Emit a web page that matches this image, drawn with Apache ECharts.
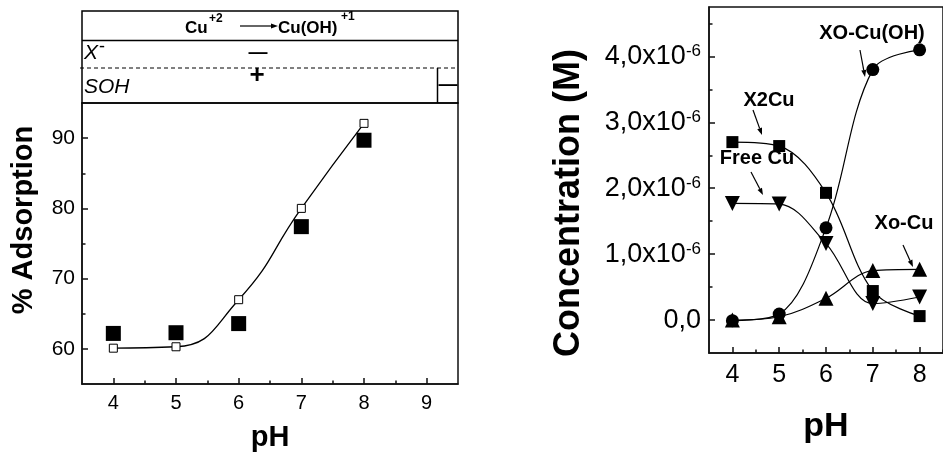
<!DOCTYPE html>
<html>
<head>
<meta charset="utf-8">
<script src="https://cdn.jsdelivr.net/npm/echarts@6/dist/echarts.min.js"></script>
<style>
html, body { margin: 0; padding: 0; background: #fff; overflow: hidden; }
#main { width: 943px; height: 457px; }
</style>
</head>
<body>
<div id="main"></div>
<script>
// left panel: % adsorption vs pH
var phLeft = [4, 5, 6, 7, 8];
var adsFilled = [62.2, 62.3, 63.6, 77.4, 89.7];
var adsOpen = [60.1, 60.3, 67.0, 80.0, 92.1];
var leftXTicks = [4, 5, 6, 7, 8, 9];
var leftXMinor = [4.5, 5.5, 6.5, 7.5, 8.5];
var leftYTicks = [60, 70, 80, 90];
var leftYMinor = [65, 75, 85];

// right panel: concentration (x10^-6 M) vs pH
var phRight = [4, 5, 6, 7, 8];
var x2Cu = [2.70, 2.64, 1.93, 0.44, 0.06];
var freeCu = [1.77, 1.76, 1.16, 0.25, 0.35];
var xoCuOH = [-0.01, 0.09, 1.40, 3.80, 4.10];
var xoCu = [0.00, 0.05, 0.33, 0.75, 0.77];
var rightXTicks = [4, 5, 6, 7, 8];
var rightXMinor = [4.5, 5.5, 6.5, 7.5, 8.5];
var rightYTicks = [0, 1, 2, 3, 4];
var rightYMinor = [0.5, 1.5, 2.5, 3.5, 4.5];

var FONT = 'Liberation Sans, Arial, sans-serif';
var AX = '#111';

function pairs(xs, ys) {
    return xs.map(function (x, i) { return [x, ys[i]]; });
}

function majorAxis(grid, min, max, ticks, size, margin, extra) {
    var a = {
        type: 'value', gridIndex: grid, min: min, max: max,
        axisLine: { show: true, onZero: false, lineStyle: { color: AX, width: 1.5 } },
        axisTick: { show: true, inside: true, length: 6, customValues: ticks, lineStyle: { color: AX, width: 1.5 } },
        axisLabel: { customValues: ticks, fontSize: size, margin: margin, color: '#000', fontFamily: FONT },
        splitLine: { show: false }
    };
    for (var k in extra) a[k] = extra[k];
    return a;
}

// second axis on the same side, only for the short half-step ticks
function minorAxis(grid, min, max, ticks, pos) {
    return {
        type: 'value', gridIndex: grid, min: min, max: max, position: pos,
        axisLine: { show: false, onZero: false },
        axisTick: { show: true, inside: true, length: 3.5, customValues: ticks, lineStyle: { color: AX, width: 1.5 } },
        axisLabel: { show: false },
        splitLine: { show: false }
    };
}

function txt(x, y, s, font, align) {
    return { type: 'text', z: 100, style: { x: x, y: y, text: s, font: font, fill: '#000',
        textAlign: align || 'left', align: align || 'left',
        textVerticalAlign: 'middle', verticalAlign: 'middle' } };
}

function seg(x1, y1, x2, y2, w, dash) {
    return { type: 'line', z: 100, shape: { x1: x1, y1: y1, x2: x2, y2: y2 },
        style: { stroke: '#000', lineWidth: w || 1, lineDash: dash || null } };
}

function arrow(x1, y1, x2, y2) {
    var a = Math.atan2(y2 - y1, x2 - x1), L = 7, W = 2.5;
    var bx = x2 - L * Math.cos(a), by = y2 - L * Math.sin(a);
    return [
        seg(x1, y1, bx, by, 1.2),
        { type: 'polygon', z: 100, shape: { points: [[x2, y2],
            [bx + W * Math.sin(a), by - W * Math.cos(a)],
            [bx - W * Math.sin(a), by + W * Math.cos(a)]] }, style: { fill: '#000' } }
    ];
}

var graphics = [
    // reaction / charge table above the left plot
    { type: 'rect', z: 100, shape: { x: 82, y: 11, width: 376, height: 92 },
      style: { fill: null, stroke: '#000', lineWidth: 1.5 } },
    seg(82, 40.5, 458, 40.5, 1.5),
    seg(80, 68, 458, 68, 1, [4, 3]),
    seg(437.5, 68, 437.5, 103, 1.5),
    txt(185, 28, 'Cu', 'bold 17px ' + FONT),
    txt(209, 19, '+2', 'bold 12px ' + FONT),
    txt(278, 28, 'Cu(OH)', 'bold 17px ' + FONT),
    txt(341, 17, '+1', 'bold 12px ' + FONT),
    txt(84, 53, 'X', 'italic 21px ' + FONT),
    txt(99, 47, '-', '18px ' + FONT),
    txt(84, 87, 'SOH', 'italic 21px ' + FONT),
    txt(258, 53, '\u2014', 'bold 19px ' + FONT, 'center'),
    txt(257, 76, '+', 'bold 26px ' + FONT, 'center'),
    txt(448, 85, '\u2014', 'bold 19px ' + FONT, 'center'),
    // labels on the right panel
    txt(872, 33, 'XO-Cu(OH)', 'bold 20px ' + FONT, 'center'),
    txt(769, 100, 'X2Cu', 'bold 20px ' + FONT, 'center'),
    txt(757, 158, 'Free Cu', 'bold 20px ' + FONT, 'center'),
    txt(904, 223, 'Xo-Cu', 'bold 20px ' + FONT, 'center')
].concat(
    arrow(240, 26, 278, 26),
    arrow(860, 50, 865, 77),
    arrow(753, 110, 762, 135),
    arrow(751, 172, 763, 195),
    arrow(903, 245, 913, 267)
);

var chart = echarts.init(document.getElementById('main'));
chart.setOption({
    animation: false,
    backgroundColor: '#fff',
    textStyle: { fontFamily: FONT },
    grid: [
        { left: 82, top: 103, right: 485, bottom: 73, show: true, borderColor: AX, borderWidth: 1.5 },
        { left: 709, top: 7, right: -10, bottom: 104, show: true, borderColor: AX, borderWidth: 1.5 }
    ],
    xAxis: [
        majorAxis(0, 3.5, 9.5, leftXTicks, 20, 9, {
            position: 'bottom', name: 'pH', nameLocation: 'middle', nameGap: 39,
            nameTextStyle: { fontSize: 29, fontWeight: 'bold', color: '#000', fontFamily: FONT } }),
        minorAxis(0, 3.5, 9.5, leftXMinor, 'bottom'),
        majorAxis(1, 3.5, 8.5, rightXTicks, 25, 10, {
            position: 'bottom', name: 'pH', nameLocation: 'middle', nameGap: 57,
            nameTextStyle: { fontSize: 34, fontWeight: 'bold', color: '#000', fontFamily: FONT } }),
        minorAxis(1, 3.5, 8.5, rightXMinor, 'bottom')
    ],
    yAxis: [
        majorAxis(0, 55, 95, leftYTicks, 21, 7, {
            position: 'left', name: '% Adsorption', nameLocation: 'middle', nameGap: 44,
            nameTextStyle: { fontSize: 29, fontWeight: 'bold', color: '#000', fontFamily: FONT, padding: [0, 0, 0, 47] } }),
        minorAxis(0, 55, 95, leftYMinor, 'left'),
        majorAxis(1, -0.5, 4.75, rightYTicks, 27, 8, {
            position: 'left', name: 'Concentration (M)', nameLocation: 'middle', nameGap: 122,
            nameTextStyle: { fontSize: 36, fontWeight: 'bold', color: '#000', fontFamily: FONT, padding: [0, 46, 0, 0] },
            axisLabel: {
                customValues: rightYTicks, fontSize: 27, margin: 8, color: '#000', fontFamily: FONT,
                formatter: function (v) {
                    if (v === 0) return '0,0';
                    return v.toFixed(1).replace('.', ',') + 'x10{s|-6}';
                },
                rich: { s: { fontSize: 17, verticalAlign: 'top', color: '#000', fontFamily: FONT } }
            } }),
        minorAxis(1, -0.5, 4.75, rightYMinor, 'left')
    ],
    series: [
        {
            type: 'line', xAxisIndex: 0, yAxisIndex: 0, data: pairs(phLeft, adsOpen),
            smooth: 0.5, symbol: 'rect', symbolSize: 8,
            itemStyle: { color: '#fff', borderColor: '#000', borderWidth: 1 },
            lineStyle: { color: '#000', width: 1.3 }
        },
        {
            type: 'scatter', xAxisIndex: 0, yAxisIndex: 0, data: pairs(phLeft, adsFilled),
            symbol: 'rect', symbolSize: 15, itemStyle: { color: '#000', opacity: 1 }
        },
        {
            type: 'line', xAxisIndex: 2, yAxisIndex: 2, data: pairs(phRight, x2Cu),
            smooth: 0.35, symbol: 'rect', symbolSize: 12,
            itemStyle: { color: '#000' }, lineStyle: { color: '#000', width: 1.2 }
        },
        {
            type: 'line', xAxisIndex: 2, yAxisIndex: 2, data: pairs(phRight, freeCu),
            smooth: 0.35, symbol: 'triangle', symbolRotate: 180, symbolSize: 15,
            itemStyle: { color: '#000' }, lineStyle: { color: '#000', width: 1.2 }
        },
        {
            type: 'line', xAxisIndex: 2, yAxisIndex: 2, data: pairs(phRight, xoCuOH),
            smooth: 0.35, symbol: 'circle', symbolSize: 13,
            itemStyle: { color: '#000' }, lineStyle: { color: '#000', width: 1.2 }
        },
        {
            type: 'line', xAxisIndex: 2, yAxisIndex: 2, data: pairs(phRight, xoCu),
            smooth: 0.35, symbol: 'triangle', symbolSize: 15,
            itemStyle: { color: '#000' }, lineStyle: { color: '#000', width: 1.2 }
        }
    ],
    graphic: graphics
});
</script>
</body>
</html>
